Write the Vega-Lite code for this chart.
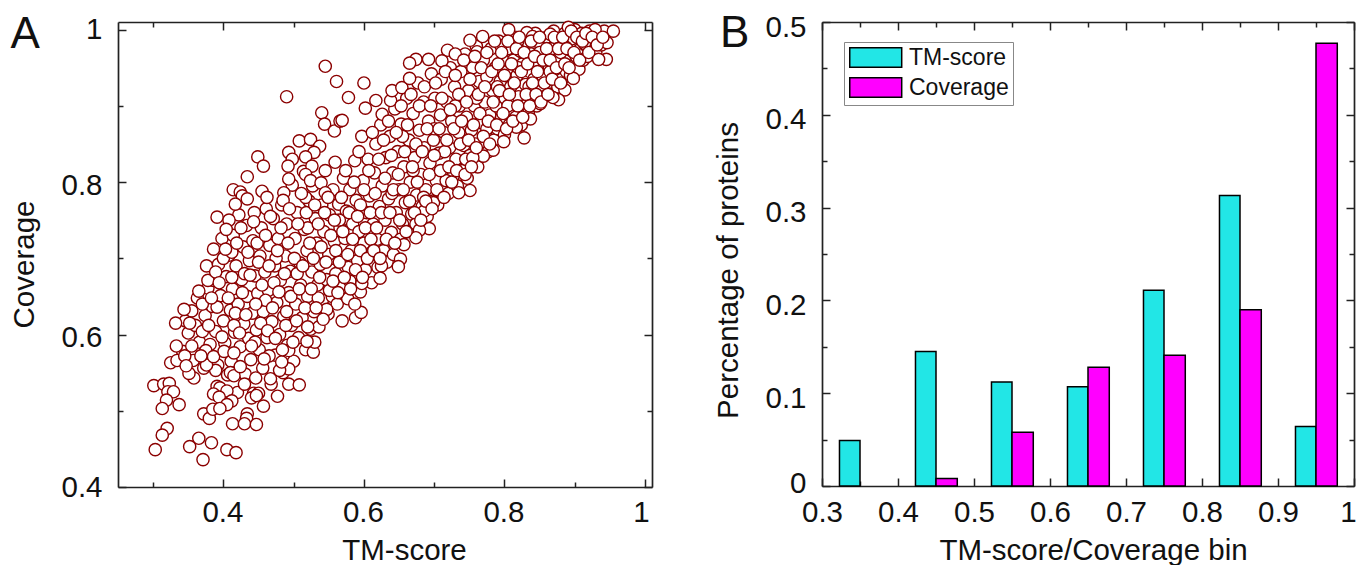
{"$schema":"https://vega.github.io/schema/vega-lite/v6.json","background":"white","padding":{"left":9,"top":12,"right":0,"bottom":0},"spacing":60,"config":{"view":{"stroke":null},"font":"Liberation Sans","axis":{"domainColor":"#222","domainWidth":1.7,"tickColor":"#222","tickWidth":1.5,"grid":false,"labelColor":"#111","titleColor":"#111","titleFontWeight":"normal","labelFontSize":29.5,"titleFontSize":29.5,"labelFont":"Liberation Sans","titleFont":"Liberation Sans","labelFlush":false}},"hconcat":[{"width":534,"height":465,"data":{"values":[
{"t":0.342,"c":0.578},{"t":0.35,"c":0.602},{"t":0.346,"c":0.618},{"t":0.357,"c":0.566},{"t":0.36,"c":0.612},{"t":0.355,"c":0.631},{"t":0.366,"c":0.59},{"t":0.363,"c":0.648},{"t":0.372,"c":0.556},{"t":0.37,"c":0.604},{"t":0.374,"c":0.625},{"t":0.378,"c":0.661},{"t":0.376,"c":0.69},{"t":0.381,"c":0.587},{"t":0.384,"c":0.637},{"t":0.386,"c":0.671},{"t":0.389,"c":0.604},{"t":0.392,"c":0.56},{"t":0.393,"c":0.692},{"t":0.396,"c":0.651},{"t":0.398,"c":0.726},{"t":0.4,"c":0.618},{"t":0.402,"c":0.589},{"t":0.404,"c":0.676},{"t":0.406,"c":0.547},{"t":0.408,"c":0.704},{"t":0.41,"c":0.632},{"t":0.411,"c":0.565},{"t":0.413,"c":0.66},{"t":0.414,"c":0.73},{"t":0.416,"c":0.603},{"t":0.418,"c":0.69},{"t":0.42,"c":0.524},{"t":0.421,"c":0.64},{"t":0.422,"c":0.757},{"t":0.424,"c":0.584},{"t":0.426,"c":0.672},{"t":0.428,"c":0.715},{"t":0.429,"c":0.614},{"t":0.431,"c":0.548},{"t":0.433,"c":0.743},{"t":0.434,"c":0.65},{"t":0.436,"c":0.595},{"t":0.437,"c":0.697},{"t":0.439,"c":0.567},{"t":0.441,"c":0.628},{"t":0.442,"c":0.723},{"t":0.444,"c":0.76},{"t":0.445,"c":0.677},{"t":0.447,"c":0.606},{"t":0.449,"c":0.654},{"t":0.451,"c":0.58},{"t":0.452,"c":0.703},{"t":0.454,"c":0.74},{"t":0.456,"c":0.556},{"t":0.457,"c":0.63},{"t":0.459,"c":0.682},{"t":0.461,"c":0.765},{"t":0.462,"c":0.596},{"t":0.464,"c":0.658},{"t":0.466,"c":0.717},{"t":0.468,"c":0.535},{"t":0.469,"c":0.617},{"t":0.471,"c":0.752},{"t":0.473,"c":0.69},{"t":0.474,"c":0.573},{"t":0.476,"c":0.642},{"t":0.478,"c":0.726},{"t":0.48,"c":0.6},{"t":0.481,"c":0.671},{"t":0.483,"c":0.77},{"t":0.485,"c":0.55},{"t":0.486,"c":0.624},{"t":0.488,"c":0.703},{"t":0.49,"c":0.745},{"t":0.491,"c":0.586},{"t":0.493,"c":0.655},{"t":0.495,"c":0.683},{"t":0.497,"c":0.612},{"t":0.498,"c":0.796},{"t":0.5,"c":0.565},{"t":0.502,"c":0.726},{"t":0.503,"c":0.64},{"t":0.505,"c":0.76},{"t":0.507,"c":0.596},{"t":0.509,"c":0.694},{"t":0.51,"c":0.665},{"t":0.512,"c":0.622},{"t":0.514,"c":0.814},{"t":0.515,"c":0.738},{"t":0.517,"c":0.58},{"t":0.519,"c":0.71},{"t":0.52,"c":0.65},{"t":0.522,"c":0.775},{"t":0.524,"c":0.607},{"t":0.526,"c":0.682},{"t":0.527,"c":0.795},{"t":0.529,"c":0.63},{"t":0.531,"c":0.752},{"t":0.533,"c":0.72},{"t":0.534,"c":0.665},{"t":0.536,"c":0.61},{"t":0.538,"c":0.692},{"t":0.54,"c":0.77},{"t":0.541,"c":0.645},{"t":0.543,"c":0.735},{"t":0.545,"c":0.815},{"t":0.547,"c":0.672},{"t":0.549,"c":0.627},{"t":0.551,"c":0.757},{"t":0.553,"c":0.7},{"t":0.555,"c":0.65},{"t":0.556,"c":0.79},{"t":0.558,"c":0.722},{"t":0.56,"c":0.68},{"t":0.562,"c":0.64},{"t":0.564,"c":0.771},{"t":0.566,"c":0.74},{"t":0.567,"c":0.7},{"t":0.569,"c":0.662},{"t":0.571,"c":0.805},{"t":0.573,"c":0.726},{"t":0.575,"c":0.762},{"t":0.577,"c":0.647},{"t":0.578,"c":0.688},{"t":0.58,"c":0.79},{"t":0.582,"c":0.71},{"t":0.584,"c":0.745},{"t":0.586,"c":0.67},{"t":0.587,"c":0.828},{"t":0.589,"c":0.776},{"t":0.591,"c":0.697},{"t":0.593,"c":0.735},{"t":0.595,"c":0.656},{"t":0.597,"c":0.86},{"t":0.599,"c":0.802},{"t":0.6,"c":0.72},{"t":0.602,"c":0.685},{"t":0.604,"c":0.76},{"t":0.606,"c":0.83},{"t":0.608,"c":0.782},{"t":0.609,"c":0.705},{"t":0.611,"c":0.668},{"t":0.613,"c":0.745},{"t":0.615,"c":0.812},{"t":0.617,"c":0.85},{"t":0.619,"c":0.725},{"t":0.62,"c":0.688},{"t":0.622,"c":0.768},{"t":0.624,"c":0.875},{"t":0.626,"c":0.795},{"t":0.628,"c":0.71},{"t":0.63,"c":0.75},{"t":0.631,"c":0.832},{"t":0.633,"c":0.695},{"t":0.635,"c":0.778},{"t":0.637,"c":0.86},{"t":0.639,"c":0.734},{"t":0.641,"c":0.812},{"t":0.642,"c":0.705},{"t":0.644,"c":0.896},{"t":0.646,"c":0.76},{"t":0.648,"c":0.84},{"t":0.65,"c":0.79},{"t":0.652,"c":0.725},{"t":0.653,"c":0.876},{"t":0.655,"c":0.745},{"t":0.657,"c":0.82},{"t":0.659,"c":0.773},{"t":0.661,"c":0.91},{"t":0.662,"c":0.735},{"t":0.664,"c":0.855},{"t":0.666,"c":0.8},{"t":0.668,"c":0.758},{"t":0.67,"c":0.89},{"t":0.672,"c":0.832},{"t":0.674,"c":0.745},{"t":0.675,"c":0.783},{"t":0.677,"c":0.93},{"t":0.679,"c":0.868},{"t":0.681,"c":0.81},{"t":0.683,"c":0.768},{"t":0.685,"c":0.905},{"t":0.686,"c":0.845},{"t":0.688,"c":0.79},{"t":0.69,"c":0.755},{"t":0.692,"c":0.88},{"t":0.694,"c":0.825},{"t":0.696,"c":0.942},{"t":0.698,"c":0.775},{"t":0.699,"c":0.855},{"t":0.701,"c":0.91},{"t":0.703,"c":0.802},{"t":0.705,"c":0.77},{"t":0.707,"c":0.838},{"t":0.709,"c":0.888},{"t":0.71,"c":0.935},{"t":0.712,"c":0.79},{"t":0.714,"c":0.865},{"t":0.716,"c":0.815},{"t":0.718,"c":0.905},{"t":0.72,"c":0.785},{"t":0.722,"c":0.845},{"t":0.723,"c":0.95},{"t":0.725,"c":0.88},{"t":0.727,"c":0.808},{"t":0.729,"c":0.925},{"t":0.731,"c":0.83},{"t":0.733,"c":0.795},{"t":0.735,"c":0.865},{"t":0.736,"c":0.9},{"t":0.738,"c":0.945},{"t":0.74,"c":0.815},{"t":0.742,"c":0.848},{"t":0.744,"c":0.968},{"t":0.746,"c":0.885},{"t":0.747,"c":0.805},{"t":0.749,"c":0.92},{"t":0.751,"c":0.835},{"t":0.753,"c":0.868},{"t":0.755,"c":0.95},{"t":0.757,"c":0.9},{"t":0.759,"c":0.85},{"t":0.76,"c":0.978},{"t":0.762,"c":0.82},{"t":0.764,"c":0.932},{"t":0.766,"c":0.878},{"t":0.768,"c":0.845},{"t":0.77,"c":0.96},{"t":0.772,"c":0.905},{"t":0.773,"c":0.862},{"t":0.775,"c":0.938},{"t":0.777,"c":0.84},{"t":0.779,"c":0.888},{"t":0.781,"c":0.975},{"t":0.783,"c":0.92},{"t":0.785,"c":0.855},{"t":0.787,"c":0.95},{"t":0.788,"c":0.9},{"t":0.79,"c":0.87},{"t":0.792,"c":0.985},{"t":0.794,"c":0.932},{"t":0.796,"c":0.885},{"t":0.798,"c":0.96},{"t":0.8,"c":0.862},{"t":0.801,"c":0.91},{"t":0.803,"c":0.945},{"t":0.805,"c":0.975},{"t":0.807,"c":0.875},{"t":0.809,"c":0.925},{"t":0.811,"c":0.895},{"t":0.813,"c":0.96},{"t":0.815,"c":0.99},{"t":0.816,"c":0.885},{"t":0.818,"c":0.94},{"t":0.82,"c":0.912},{"t":0.822,"c":0.972},{"t":0.824,"c":0.875},{"t":0.826,"c":0.955},{"t":0.828,"c":0.9},{"t":0.83,"c":0.928},{"t":0.832,"c":0.985},{"t":0.834,"c":0.89},{"t":0.836,"c":0.945},{"t":0.838,"c":0.968},{"t":0.84,"c":0.91},{"t":0.842,"c":0.935},{"t":0.844,"c":0.995},{"t":0.846,"c":0.9},{"t":0.848,"c":0.955},{"t":0.85,"c":0.922},{"t":0.852,"c":0.978},{"t":0.854,"c":0.94},{"t":0.856,"c":0.912},{"t":0.858,"c":0.965},{"t":0.86,"c":0.99},{"t":0.862,"c":0.93},{"t":0.864,"c":0.95},{"t":0.866,"c":0.915},{"t":0.868,"c":0.975},{"t":0.87,"c":0.998},{"t":0.872,"c":0.94},{"t":0.874,"c":0.96},{"t":0.876,"c":0.925},{"t":0.878,"c":0.985},{"t":0.88,"c":0.95},{"t":0.882,"c":0.935},{"t":0.884,"c":0.97},{"t":0.886,"c":0.995},{"t":0.888,"c":0.945},{"t":0.89,"c":0.96},{"t":0.892,"c":0.985},{"t":0.894,"c":0.94},{"t":0.896,"c":0.972},{"t":0.898,"c":0.952},{"t":0.9,"c":1.0},{"t":0.902,"c":0.965},{"t":0.904,"c":0.985},{"t":0.906,"c":0.948},{"t":0.908,"c":0.975},{"t":0.91,"c":0.995},{"t":0.912,"c":0.96},{"t":0.915,"c":0.98},{"t":0.918,"c":0.965},{"t":0.921,"c":0.998},{"t":0.924,"c":0.975},{"t":0.927,"c":0.988},{"t":0.93,"c":0.97},{"t":0.934,"c":0.995},{"t":0.938,"c":0.98},{"t":0.942,"c":0.998},
{"t":0.415,"c":0.612},{"t":0.43,"c":0.68},{"t":0.445,"c":0.59},{"t":0.46,"c":0.645},{"t":0.475,"c":0.7},{"t":0.49,"c":0.63},{"t":0.505,"c":0.68},{"t":0.52,"c":0.74},{"t":0.535,"c":0.648},{"t":0.55,"c":0.705},{"t":0.565,"c":0.75},{"t":0.58,"c":0.67},{"t":0.595,"c":0.77},{"t":0.61,"c":0.725},{"t":0.625,"c":0.69},{"t":0.64,"c":0.785},{"t":0.655,"c":0.86},{"t":0.67,"c":0.815},{"t":0.685,"c":0.78},{"t":0.7,"c":0.87},{"t":0.715,"c":0.84},{"t":0.73,"c":0.9},{"t":0.745,"c":0.83},{"t":0.76,"c":0.91},{"t":0.775,"c":0.87},{"t":0.79,"c":0.925},{"t":0.805,"c":0.9},{"t":0.82,"c":0.95},{"t":0.835,"c":0.925},{"t":0.85,"c":0.97},{"t":0.865,"c":0.945},{"t":0.88,"c":0.97},{"t":0.895,"c":0.985},
{"t":0.301,"c":0.533},{"t":0.315,"c":0.535},{"t":0.323,"c":0.536},{"t":0.321,"c":0.525},{"t":0.329,"c":0.525},{"t":0.319,"c":0.514},{"t":0.313,"c":0.503},{"t":0.337,"c":0.508},{"t":0.32,"c":0.477},{"t":0.313,"c":0.468},{"t":0.303,"c":0.449},{"t":0.352,"c":0.453},{"t":0.365,"c":0.464},{"t":0.383,"c":0.458},{"t":0.371,"c":0.436},{"t":0.405,"c":0.449},{"t":0.418,"c":0.445},{"t":0.372,"c":0.496},{"t":0.38,"c":0.49},{"t":0.385,"c":0.502},{"t":0.391,"c":0.532},{"t":0.395,"c":0.53},{"t":0.386,"c":0.522},{"t":0.405,"c":0.526},{"t":0.394,"c":0.518},{"t":0.412,"c":0.513},{"t":0.405,"c":0.508},{"t":0.395,"c":0.503},{"t":0.413,"c":0.483},{"t":0.434,"c":0.496},{"t":0.433,"c":0.49},{"t":0.43,"c":0.483},{"t":0.447,"c":0.482},{"t":0.457,"c":0.506},{"t":0.477,"c":0.519},{"t":0.493,"c":0.535},{"t":0.508,"c":0.534},{"t":0.443,"c":0.523},{"t":0.45,"c":0.523},{"t":0.44,"c":0.517},{"t":0.447,"c":0.52},{"t":0.43,"c":0.535},{"t":0.446,"c":0.543},{"t":0.467,"c":0.542},{"t":0.358,"c":0.543},{"t":0.351,"c":0.549},{"t":0.389,"c":0.553},{"t":0.41,"c":0.55},{"t":0.415,"c":0.546},{"t":0.424,"c":0.558},{"t":0.493,"c":0.555},{"t":0.48,"c":0.553},{"t":0.325,"c":0.563},{"t":0.334,"c":0.566},{"t":0.345,"c":0.572},{"t":0.347,"c":0.559},{"t":0.333,"c":0.585},{"t":0.355,"c":0.585},{"t":0.376,"c":0.56},{"t":0.375,"c":0.579},{"t":0.386,"c":0.571},{"t":0.401,"c":0.578},{"t":0.415,"c":0.576},{"t":0.465,"c":0.572},{"t":0.483,"c":0.564},{"t":0.493,"c":0.579},{"t":0.528,"c":0.577},{"t":0.53,"c":0.59},{"t":0.519,"c":0.591},{"t":0.332,"c":0.615},{"t":0.352,"c":0.615},{"t":0.344,"c":0.633},{"t":0.37,"c":0.64},{"t":0.365,"c":0.657},{"t":0.569,"c":0.618},{"t":0.588,"c":0.622},{"t":0.596,"c":0.629},{"t":0.587,"c":0.64},{"t":0.547,"c":0.633},
{"t":0.545,"c":0.952},{"t":0.561,"c":0.932},{"t":0.49,"c":0.912},{"t":0.54,"c":0.891},{"t":0.544,"c":0.876},{"t":0.558,"c":0.867},{"t":0.566,"c":0.88},{"t":0.508,"c":0.854},{"t":0.524,"c":0.856},{"t":0.537,"c":0.847},{"t":0.493,"c":0.839},{"t":0.529,"c":0.839},{"t":0.517,"c":0.833},{"t":0.449,"c":0.833},{"t":0.457,"c":0.821},{"t":0.498,"c":0.83},{"t":0.492,"c":0.821},{"t":0.526,"c":0.821},{"t":0.559,"c":0.826},{"t":0.434,"c":0.807},{"t":0.493,"c":0.804},{"t":0.517,"c":0.81},{"t":0.524,"c":0.802},{"t":0.539,"c":0.799},{"t":0.414,"c":0.79},{"t":0.424,"c":0.787},{"t":0.455,"c":0.788},{"t":0.427,"c":0.782},{"t":0.434,"c":0.778},{"t":0.462,"c":0.78},{"t":0.486,"c":0.786},{"t":0.485,"c":0.776},{"t":0.517,"c":0.78},{"t":0.545,"c":0.786},{"t":0.417,"c":0.771},{"t":0.391,"c":0.754},{"t":0.408,"c":0.75},{"t":0.404,"c":0.738},{"t":0.386,"c":0.712},{"t":0.4,"c":0.7},{"t":0.412,"c":0.708},{"t":0.378,"c":0.671},{"t":0.389,"c":0.682},
{"t":0.6,"c":0.93},{"t":0.578,"c":0.911},{"t":0.602,"c":0.897},{"t":0.569,"c":0.881},{"t":0.617,"c":0.907},{"t":0.626,"c":0.889},{"t":0.638,"c":0.907},{"t":0.64,"c":0.92},{"t":0.654,"c":0.924},{"t":0.665,"c":0.936},{"t":0.674,"c":0.961},{"t":0.665,"c":0.956},{"t":0.692,"c":0.961},{"t":0.719,"c":0.973},{"t":0.73,"c":0.968},{"t":0.711,"c":0.959},{"t":0.751,"c":0.986},{"t":0.769,"c":0.991},{"t":0.806,"c":1.0},{"t":0.832,"c":0.996},{"t":0.761,"c":0.971},{"t":0.795,"c":0.979},{"t":0.819,"c":0.985},{"t":0.84,"c":0.991},{"t":0.865,"c":0.994},{"t":0.891,"c":1.003},{"t":0.929,"c":1.0},{"t":0.955,"c":0.998},{"t":0.946,"c":0.983},{"t":0.945,"c":0.961},{"t":0.934,"c":0.961},{"t":0.928,"c":0.984},{"t":0.914,"c":0.982},{"t":0.896,"c":0.988},{"t":0.887,"c":0.977},{"t":0.898,"c":0.936},{"t":0.886,"c":0.921},{"t":0.877,"c":0.908},{"t":0.869,"c":0.911},{"t":0.851,"c":0.903},{"t":0.837,"c":0.883},{"t":0.828,"c":0.858},{"t":0.817,"c":0.872},{"t":0.799,"c":0.853},{"t":0.784,"c":0.842},{"t":0.77,"c":0.834},{"t":0.755,"c":0.832},{"t":0.751,"c":0.789},{"t":0.735,"c":0.786},{"t":0.717,"c":0.802},{"t":0.699,"c":0.773},{"t":0.686,"c":0.762},{"t":0.693,"c":0.739},{"t":0.679,"c":0.737},{"t":0.674,"c":0.727},{"t":0.657,"c":0.718},{"t":0.652,"c":0.699},{"t":0.649,"c":0.689},{"t":0.623,"c":0.674},{"t":0.597,"c":0.667},
{"t":0.368,"c":0.572},{"t":0.379,"c":0.612},{"t":0.391,"c":0.636},{"t":0.383,"c":0.648},{"t":0.398,"c":0.597},{"t":0.394,"c":0.668},{"t":0.407,"c":0.648},{"t":0.403,"c":0.712},{"t":0.417,"c":0.628},{"t":0.412,"c":0.675},{"t":0.423,"c":0.602},{"t":0.419,"c":0.72},{"t":0.427,"c":0.655},{"t":0.432,"c":0.626},{"t":0.425,"c":0.74},{"t":0.438,"c":0.678},{"t":0.44,"c":0.585},{"t":0.435,"c":0.708},{"t":0.443,"c":0.748},{"t":0.446,"c":0.64},{"t":0.45,"c":0.695},{"t":0.448,"c":0.72},{"t":0.453,"c":0.615},{"t":0.455,"c":0.665},{"t":0.458,"c":0.568},{"t":0.46,"c":0.73},{"t":0.463,"c":0.605},{"t":0.465,"c":0.69},{"t":0.467,"c":0.755},{"t":0.47,"c":0.635},{"t":0.472,"c":0.668},{"t":0.474,"c":0.595},{"t":0.477,"c":0.71},{"t":0.479,"c":0.656},{"t":0.482,"c":0.74},{"t":0.484,"c":0.58},{"t":0.487,"c":0.68},{"t":0.489,"c":0.612},{"t":0.492,"c":0.72},{"t":0.494,"c":0.765},{"t":0.496,"c":0.65},{"t":0.499,"c":0.59},{"t":0.501,"c":0.7},{"t":0.504,"c":0.618},{"t":0.506,"c":0.745},{"t":0.508,"c":0.66},{"t":0.511,"c":0.785},{"t":0.513,"c":0.69},{"t":0.516,"c":0.635},{"t":0.518,"c":0.76},{"t":0.52,"c":0.61},{"t":0.523,"c":0.72},{"t":0.525,"c":0.66},{"t":0.528,"c":0.7},{"t":0.53,"c":0.77},{"t":0.532,"c":0.635},{"t":0.535,"c":0.745},{"t":0.537,"c":0.675},{"t":0.539,"c":0.715},{"t":0.542,"c":0.62},{"t":0.544,"c":0.76},{"t":0.546,"c":0.695},{"t":0.549,"c":0.78},{"t":0.551,"c":0.658},{"t":0.553,"c":0.73},{"t":0.556,"c":0.67},{"t":0.558,"c":0.75},{"t":0.56,"c":0.71},{"t":0.563,"c":0.655},{"t":0.565,"c":0.695},{"t":0.568,"c":0.78},{"t":0.57,"c":0.735},{"t":0.572,"c":0.675},{"t":0.574,"c":0.815},{"t":0.577,"c":0.705},{"t":0.579,"c":0.76},{"t":0.581,"c":0.66},{"t":0.584,"c":0.725},{"t":0.586,"c":0.8},{"t":0.588,"c":0.685},{"t":0.591,"c":0.755},{"t":0.593,"c":0.84},{"t":0.595,"c":0.71},{"t":0.598,"c":0.675},{"t":0.6,"c":0.79},{"t":0.602,"c":0.74},{"t":0.605,"c":0.7},{"t":0.607,"c":0.815},{"t":0.609,"c":0.76},{"t":0.612,"c":0.865},{"t":0.614,"c":0.71},{"t":0.616,"c":0.785},{"t":0.618,"c":0.74},{"t":0.621,"c":0.83},{"t":0.623,"c":0.7},{"t":0.625,"c":0.76},{"t":0.628,"c":0.855},{"t":0.63,"c":0.805},{"t":0.632,"c":0.725},{"t":0.635,"c":0.88},{"t":0.637,"c":0.76},{"t":0.639,"c":0.835},{"t":0.642,"c":0.79},{"t":0.644,"c":0.72},{"t":0.646,"c":0.865},{"t":0.649,"c":0.81},{"t":0.651,"c":0.75},{"t":0.653,"c":0.9},{"t":0.656,"c":0.79},{"t":0.658,"c":0.84},{"t":0.66,"c":0.735},{"t":0.662,"c":0.875},{"t":0.665,"c":0.775},{"t":0.667,"c":0.915},{"t":0.669,"c":0.82},{"t":0.672,"c":0.76},{"t":0.674,"c":0.85},{"t":0.676,"c":0.8},{"t":0.679,"c":0.9},{"t":0.681,"c":0.75},{"t":0.683,"c":0.84},{"t":0.686,"c":0.925},{"t":0.688,"c":0.775},{"t":0.69,"c":0.87},{"t":0.693,"c":0.81},{"t":0.695,"c":0.9},{"t":0.697,"c":0.765},{"t":0.7,"c":0.835},{"t":0.702,"c":0.93},{"t":0.704,"c":0.79},{"t":0.707,"c":0.87},{"t":0.709,"c":0.815},{"t":0.711,"c":0.91},{"t":0.714,"c":0.78},{"t":0.716,"c":0.945},{"t":0.718,"c":0.855},{"t":0.721,"c":0.82},{"t":0.723,"c":0.895},{"t":0.725,"c":0.8},{"t":0.728,"c":0.87},{"t":0.73,"c":0.94},{"t":0.732,"c":0.815},{"t":0.735,"c":0.915},{"t":0.737,"c":0.85},{"t":0.739,"c":0.88},{"t":0.742,"c":0.96},{"t":0.744,"c":0.81},{"t":0.746,"c":0.905},{"t":0.749,"c":0.855},{"t":0.751,"c":0.935},{"t":0.753,"c":0.82},{"t":0.756,"c":0.875},{"t":0.758,"c":0.965},{"t":0.76,"c":0.845},{"t":0.763,"c":0.915},{"t":0.765,"c":0.89},{"t":0.767,"c":0.95},{"t":0.77,"c":0.86},{"t":0.772,"c":0.925},{"t":0.775,"c":0.97},{"t":0.777,"c":0.88},{"t":0.779,"c":0.85},{"t":0.782,"c":0.945},{"t":0.784,"c":0.905},{"t":0.786,"c":0.985},{"t":0.789,"c":0.875},{"t":0.791,"c":0.955},{"t":0.793,"c":0.92},{"t":0.796,"c":0.97},{"t":0.798,"c":0.89},{"t":0.8,"c":0.94},{"t":0.803,"c":0.87},{"t":0.805,"c":0.985},{"t":0.807,"c":0.915},{"t":0.81,"c":0.955},{"t":0.812,"c":0.88},{"t":0.814,"c":0.93},{"t":0.817,"c":0.975},{"t":0.819,"c":0.9},{"t":0.821,"c":0.99},{"t":0.824,"c":0.945},{"t":0.826,"c":0.885},{"t":0.828,"c":0.97},{"t":0.831,"c":0.915},{"t":0.833,"c":0.955},{"t":0.836,"c":0.9},{"t":0.838,"c":0.985},{"t":0.84,"c":0.93},{"t":0.843,"c":0.965},{"t":0.845,"c":0.915},{"t":0.847,"c":0.945},{"t":0.85,"c":0.99},{"t":0.852,"c":0.905},{"t":0.855,"c":0.96},{"t":0.857,"c":0.93},{"t":0.86,"c":0.975},{"t":0.862,"c":0.915},{"t":0.865,"c":0.96},{"t":0.868,"c":0.935},{"t":0.871,"c":0.99},{"t":0.874,"c":0.95},{"t":0.877,"c":0.975},{"t":0.88,"c":0.93},{"t":0.883,"c":0.99},{"t":0.886,"c":0.955},{"t":0.889,"c":0.975},{"t":0.892,"c":0.95},{"t":0.895,"c":0.998},{"t":0.899,"c":0.97},{"t":0.903,"c":0.99},{"t":0.907,"c":0.96},{"t":0.911,"c":0.985},{"t":0.916,"c":0.995},{"t":0.92,"c":0.97},{"t":0.925,"c":0.99},{"t":0.932,"c":0.98},{"t":0.94,"c":0.99}
]},"resolve":{"axis":{"x":"independent","y":"independent"}},"layer":[
{"mark":{"type":"point","filled":false,"fill":"white","fillOpacity":1,"stroke":"#8B0000","strokeWidth":1.4,"opacity":1,"size":150,"clip":false},"encoding":{"x":{"field":"t","type":"quantitative","scale":{"domain":[0.25,1.01],"nice":false,"zero":false},"axis":{"orient":"bottom","values":[0.3,0.4,0.5,0.6,0.7,0.8,0.9,1],"format":".1~f","labelExpr":"round(datum.value*10)%2==0?datum.label:''","labelOffset":{"condition":{"test":"datum.value==1","value":-4},"value":-1},"tickSize":{"condition":{"test":"round(datum.value*10)%2==0","value":-8},"value":-5},"labelPadding":19,"title":"TM-score","titleX":286,"titlePadding":9.5}},"y":{"field":"c","type":"quantitative","scale":{"domain":[0.4,1.01],"nice":false,"zero":false},"axis":{"orient":"left","values":[0.4,0.5,0.6,0.7,0.8,0.9,1],"format":".1~f","labelExpr":"round(datum.value*10)%2==0?datum.label:''","labelOffset":{"condition":{"test":"datum.value==1||datum.value==0.4","value":0},"value":3},"tickSize":{"condition":{"test":"round(datum.value*10)%2==0","value":-8},"value":-5},"labelPadding":24,"title":"Coverage","titleY":242,"titlePadding":21}}}},
{"transform":[{"filter":"false"}],"mark":{"type":"point"},"encoding":{"x":{"field":"t","type":"quantitative","axis":{"orient":"top","values":[0.3,0.4,0.5,0.6,0.7,0.8,0.9,1],"labels":false,"title":null,"tickSize":{"condition":{"test":"round(datum.value*10)%2==0","value":-8},"value":-5}}},"y":{"field":"c","type":"quantitative","axis":{"orient":"right","values":[0.4,0.5,0.6,0.7,0.8,0.9,1],"labels":false,"title":null,"tickSize":{"condition":{"test":"round(datum.value*10)%2==0","value":-8},"value":-5}}}}},
{"data":{"values":[{"t":0.118,"c":0.9755,"label":"A"}]},"mark":{"type":"text","fontSize":44,"color":"#111","align":"center","baseline":"alphabetic","clip":false},"encoding":{"x":{"field":"t","type":"quantitative","axis":null},"y":{"field":"c","type":"quantitative","axis":null},"text":{"field":"label"}}}
]},
{"width":532,"height":464,"data":{"values":[
{"lo":0.323,"hi":0.35,"value":0.049,"series":"TM-score"},
{"lo":0.423,"hi":0.45,"value":0.145,"series":"TM-score"},{"lo":0.45,"hi":0.478,"value":0.008,"series":"Coverage"},
{"lo":0.523,"hi":0.55,"value":0.112,"series":"TM-score"},{"lo":0.55,"hi":0.578,"value":0.058,"series":"Coverage"},
{"lo":0.623,"hi":0.65,"value":0.107,"series":"TM-score"},{"lo":0.65,"hi":0.678,"value":0.128,"series":"Coverage"},
{"lo":0.723,"hi":0.75,"value":0.211,"series":"TM-score"},{"lo":0.75,"hi":0.778,"value":0.141,"series":"Coverage"},
{"lo":0.823,"hi":0.85,"value":0.313,"series":"TM-score"},{"lo":0.85,"hi":0.878,"value":0.19,"series":"Coverage"},
{"lo":0.923,"hi":0.95,"value":0.064,"series":"TM-score"},{"lo":0.95,"hi":0.978,"value":0.477,"series":"Coverage"}
]},"resolve":{"axis":{"x":"independent","y":"independent"}},"layer":[
{"mark":{"type":"bar","stroke":"black","strokeWidth":1.5,"clip":false},"encoding":{"x":{"field":"lo","type":"quantitative","scale":{"domain":[0.3,1],"nice":false,"zero":false},"axis":{"orient":"bottom","values":[0.3,0.35,0.4,0.45,0.5,0.55,0.6,0.65,0.7,0.75,0.8,0.85,0.9,0.95,1],"format":".1~f","labelExpr":"abs(datum.value*10-round(datum.value*10))<0.01?datum.label:''","labelOffset":{"condition":{"test":"datum.value==1","value":-6},"value":0},"tickSize":{"condition":{"test":"abs(datum.value*10-round(datum.value*10))<0.01","value":-8},"value":-5},"labelPadding":20,"title":"TM-score/Coverage bin","titleX":271,"titlePadding":9.5}},"x2":{"field":"hi"},"y":{"field":"value","type":"quantitative","stack":null,"scale":{"domain":[0,0.5],"nice":false,"zero":false},"axis":{"orient":"left","values":[0,0.05,0.1,0.15,0.2,0.25,0.3,0.35,0.4,0.45,0.5],"format":".1~f","labelExpr":"abs(datum.value*10-round(datum.value*10))<0.01?datum.label:''","labelOffset":{"condition":{"test":"datum.value==0","value":-3},"value":5},"tickSize":{"condition":{"test":"abs(datum.value*10-round(datum.value*10))<0.01","value":-8},"value":-5},"labelPadding":24,"title":"Percentage of proteins","titleY":248,"titlePadding":21}},"y2":{"datum":0},"color":{"field":"series","type":"nominal","scale":{"domain":["TM-score","Coverage"],"range":["#22E6E6","#FF00FF"]},"legend":{"orient":"none","legendX":726,"legendY":20,"title":null,"fillColor":"white","strokeColor":"#888","padding":4,"symbolType":"M-1,-1H4.33V1H-1Z","symbolSize":380,"symbolStrokeColor":"black","symbolStrokeWidth":1.5,"labelFontSize":23,"labelColor":"#111","labelFont":"Liberation Sans","labelOffset":38,"rowPadding":3}}}},
{"transform":[{"filter":"false"}],"mark":{"type":"point"},"encoding":{"x":{"field":"lo","type":"quantitative","axis":{"orient":"top","values":[0.3,0.35,0.4,0.45,0.5,0.55,0.6,0.65,0.7,0.75,0.8,0.85,0.9,0.95,1],"labels":false,"title":null,"tickSize":{"condition":{"test":"abs(datum.value*10-round(datum.value*10))<0.01","value":-8},"value":-5}}},"y":{"field":"value","type":"quantitative","axis":{"orient":"right","values":[0,0.05,0.1,0.15,0.2,0.25,0.3,0.35,0.4,0.45,0.5],"labels":false,"title":null,"tickSize":{"condition":{"test":"abs(datum.value*10-round(datum.value*10))<0.01","value":-8},"value":-5}}}}},
{"data":{"values":[{"lo":0.185,"value":0.473,"label":"B"}]},"mark":{"type":"text","fontSize":44,"color":"#111","align":"center","baseline":"alphabetic","clip":false},"encoding":{"x":{"field":"lo","type":"quantitative","axis":null},"y":{"field":"value","type":"quantitative","axis":null},"text":{"field":"label"}}}
]}
]}
